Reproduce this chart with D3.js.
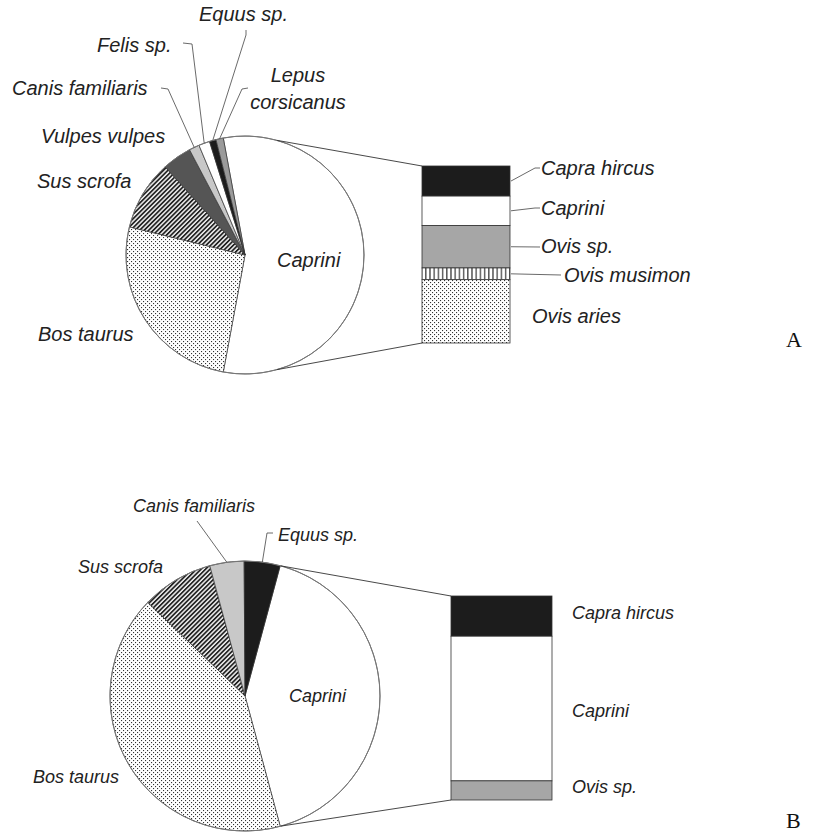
<!DOCTYPE html>
<html>
<head>
<meta charset="utf-8">
<script src="https://cdn.jsdelivr.net/npm/d3@7"></script>
<style>
  body { margin: 0; background: #fff; }
  text { font-family: "Liberation Sans", Arial, sans-serif; font-style: italic; fill: #222; }
  .letter { font-family: "Liberation Serif", "Times New Roman", serif; font-style: normal; fill: #111; }
</style>
</head>
<body>
<div class="canvas"></div>
<script>
// CHART A - the Caprini slice is split into the bar
const pieA_names = ["Bos taurus", "Sus scrofa", "Vulpes vulpes", "Canis familiaris", "Felis sp.", "Equus sp.", "Lepus corsicanus"];
const pieA_values = [25.9, 9.5, 4.0, 1.4, 1.5, 0.9, 1.0];
const barA_names = ["Capra hircus", "Caprini", "Ovis sp.", "Ovis musimon", "Ovis aries"];
const barA_values = [9.5, 9.3, 13.4, 3.7, 20.0];

// CHART B
const pieB_names = ["Bos taurus", "Sus scrofa", "Canis familiaris", "Equus sp."];
const pieB_values = [41.4, 8.6, 4.1, 4.3];
const barB_names = ["Capra hircus", "Caprini", "Ovis sp."];
const barB_values = [8.2, 29.5, 3.9];

// FILLS
const pieFill = {
  "Caprini": "#fff",
  "Bos taurus": "url(#dots)",
  "Sus scrofa": "url(#hatch)",
  "Vulpes vulpes": "#555",
  "Canis familiaris": "#c8c8c8",
  "Felis sp.": "#fff",
  "Equus sp.": "#1c1c1c",
  "Lepus corsicanus": "#9a9a9a"
};
const barFill = {
  "Capra hircus": "#1c1c1c",
  "Caprini": "#fff",
  "Ovis sp.": "#a6a6a6",
  "Ovis musimon": "url(#vstripe)",
  "Ovis aries": "url(#dots)"
};

const svg = d3.select(".canvas")
  .append("svg")
    .attr("width", 820)
    .attr("height", 833);

// PATTERNS
const defs = svg.append("defs");

const dots = defs.append("pattern")
  .attr("id", "dots").attr("patternUnits", "userSpaceOnUse")
  .attr("width", 4).attr("height", 4);
dots.append("rect").attr("width", 4).attr("height", 4).attr("fill", "#fff");
dots.append("rect").attr("x", 0).attr("y", 0).attr("width", 1.1).attr("height", 1.1).attr("fill", "#333");
dots.append("rect").attr("x", 2).attr("y", 2).attr("width", 1.1).attr("height", 1.1).attr("fill", "#333");

const hatch = defs.append("pattern")
  .attr("id", "hatch").attr("patternUnits", "userSpaceOnUse")
  .attr("width", 3.2).attr("height", 3.2)
  .attr("patternTransform", "rotate(45)");
hatch.append("rect").attr("width", 3.2).attr("height", 3.2).attr("fill", "#eee");
hatch.append("rect").attr("width", 1.7).attr("height", 3.2).attr("fill", "#222");

const vstripe = defs.append("pattern")
  .attr("id", "vstripe").attr("patternUnits", "userSpaceOnUse")
  .attr("width", 4.2).attr("height", 4);
vstripe.append("rect").attr("width", 4.2).attr("height", 4).attr("fill", "#fff");
vstripe.append("rect").attr("x", 1).attr("width", 1.2).attr("height", 4).attr("fill", "#333");

const deg = Math.PI / 180;

// LABEL PLACEMENT (text position + hook near the text)
const panels = [
  {
    letter: "A", letterPos: [786, 347],
    cx: 245, cy: 255, r: 119,
    bar: { x: 422, y: 166, w: 88, h: 177 },
    names: pieA_names, values: pieA_values,
    barNames: barA_names, barValues: barA_values,
    fontSize: 20,
    capriniPos: [277, 267],
    labels: {
      "Bos taurus": { x: 38, y: 341 },
      "Sus scrofa": { x: 37, y: 188 },
      "Vulpes vulpes": { x: 41, y: 143 },
      "Canis familiaris": { x: 12, y: 95, hook: [[161, 88], [168, 89]] },
      "Felis sp.": { x: 97, y: 52, hook: [[183, 43], [192, 44]] },
      "Equus sp.": { x: 199, y: 21, hook: [[246, 30], [246, 35]] },
      "Lepus corsicanus": { x: 298, y: 82, lines: ["Lepus", "corsicanus"], hook: [[248, 88], [242, 89]] }
    },
    barLabels: {
      "Capra hircus": { x: 541, y: 175, hook: [[535, 168], [540, 168]] },
      "Caprini": { x: 541, y: 215, hook: [[535, 208], [540, 208]] },
      "Ovis sp.": { x: 541, y: 253, hook: [[540, 247]] },
      "Ovis musimon": { x: 564, y: 282, hook: [[561, 275]] },
      "Ovis aries": { x: 532, y: 323 }
    }
  },
  {
    letter: "B", letterPos: [786, 828],
    cx: 245, cy: 696, r: 135,
    bar: { x: 451, y: 596, w: 101, h: 204 },
    names: pieB_names, values: pieB_values,
    barNames: barB_names, barValues: barB_values,
    fontSize: 18,
    capriniPos: [289, 702],
    labels: {
      "Bos taurus": { x: 33, y: 783 },
      "Sus scrofa": { x: 78, y: 573 },
      "Canis familiaris": { x: 133, y: 512, hook: [[197, 521]] },
      "Equus sp.": { x: 278, y: 541, hook: [[273, 533], [267, 533]] }
    },
    barLabels: {
      "Capra hircus": { x: 572, y: 619 },
      "Caprini": { x: 572, y: 717 },
      "Ovis sp.": { x: 572, y: 793 }
    }
  }
];

const line = d3.line();

panels.forEach(p => {
  const g = svg.append("g");
  const capriniValue = d3.sum(p.barValues);
  const slices = [{ name: "Caprini", value: capriniValue }]
    .concat(p.names.map((n, i) => ({ name: n, value: p.values[i] })));
  const total = d3.sum(slices, d => d.value);

  // Caprini slice faces the bar (centred on 90 degrees)
  const capAngle = 2 * Math.PI * capriniValue / total;
  const start = Math.PI / 2 - capAngle / 2;

  const pie = d3.pie()
    .sort(null)
    .value(d => d.value)
    .startAngle(start)
    .endAngle(start + 2 * Math.PI);
  const arcs = pie(slices);

  const arc = d3.arc().innerRadius(0).outerRadius(p.r);
  const onCircle = a => [p.cx + p.r * Math.sin(a), p.cy - p.r * Math.cos(a)];

  const pieG = g.append("g").attr("transform", `translate(${p.cx}, ${p.cy})`);
  pieG.selectAll("path")
    .data(arcs)
    .enter()
      .append("path")
      .attr("d", arc)
      .attr("fill", d => pieFill[d.data.name])
      .attr("stroke", "#333")
      .attr("stroke-width", 0.7)
      .attr("stroke-linejoin", "round");
  pieG.append("circle")
    .attr("r", p.r)
    .attr("fill", "none")
    .attr("stroke", "#777")
    .attr("stroke-width", 1);

  // BAR
  const y = d3.scaleLinear().domain([0, capriniValue]).range([p.bar.y, p.bar.y + p.bar.h]);
  const stack = [];
  let acc = 0;
  p.barNames.forEach((n, i) => {
    stack.push({ name: n, y0: acc, y1: acc + p.barValues[i] });
    acc += p.barValues[i];
  });
  g.selectAll("rect.seg")
    .data(stack)
    .enter()
      .append("rect")
      .attr("class", "seg")
      .attr("x", p.bar.x)
      .attr("y", d => y(d.y0))
      .attr("width", p.bar.w)
      .attr("height", d => y(d.y1) - y(d.y0))
      .attr("fill", d => barFill[d.name])
      .attr("stroke", "#333")
      .attr("stroke-width", 0.8);

  // SERIES LINES
  const cap = arcs[0];
  const aTop = Math.max(cap.startAngle, 15.5 * deg);
  const aBot = Math.min(cap.endAngle, 164.5 * deg);
  g.append("path")
    .attr("d", line([onCircle(aTop), [p.bar.x, p.bar.y]]))
    .attr("stroke", "#333").attr("fill", "none").attr("stroke-width", 0.9);
  g.append("path")
    .attr("d", line([onCircle(aBot), [p.bar.x, p.bar.y + p.bar.h]]))
    .attr("stroke", "#333").attr("fill", "none").attr("stroke-width", 0.9);

  // PIE LABELS
  g.append("text")
    .attr("x", p.capriniPos[0]).attr("y", p.capriniPos[1])
    .style("font-size", p.fontSize + "px")
    .text("Caprini");

  arcs.slice(1).forEach(d => {
    const lab = p.labels[d.data.name];
    if (lab.lines) {
      const t = g.append("text")
        .attr("text-anchor", "middle")
        .style("font-size", p.fontSize + "px");
      lab.lines.forEach((s, i) => {
        t.append("tspan").attr("x", lab.x).attr("y", lab.y + i * 26.5).text(s);
      });
    } else {
      g.append("text")
        .attr("x", lab.x).attr("y", lab.y)
        .style("font-size", p.fontSize + "px")
        .text(d.data.name);
    }
    if (lab.hook) {
      const mid = (d.startAngle + d.endAngle) / 2;
      g.append("path")
        .attr("d", line(lab.hook.concat([onCircle(mid)])))
        .attr("fill", "none")
        .attr("stroke", "#444")
        .attr("stroke-width", 0.8);
    }
  });

  // BAR LABELS
  stack.forEach(d => {
    const lab = p.barLabels[d.name];
    g.append("text")
      .attr("x", lab.x).attr("y", lab.y)
      .style("font-size", p.fontSize + "px")
      .text(d.name);
    if (lab.hook) {
      const mid = y((d.y0 + d.y1) / 2);
      g.append("path")
        .attr("d", line([[p.bar.x + p.bar.w + 1, mid]].concat(lab.hook)))
        .attr("fill", "none")
        .attr("stroke", "#444")
        .attr("stroke-width", 0.8);
    }
  });

  g.append("text")
    .attr("class", "letter")
    .attr("x", p.letterPos[0]).attr("y", p.letterPos[1])
    .style("font-size", "22px")
    .text(p.letter);
});
</script>
</body>
</html>
